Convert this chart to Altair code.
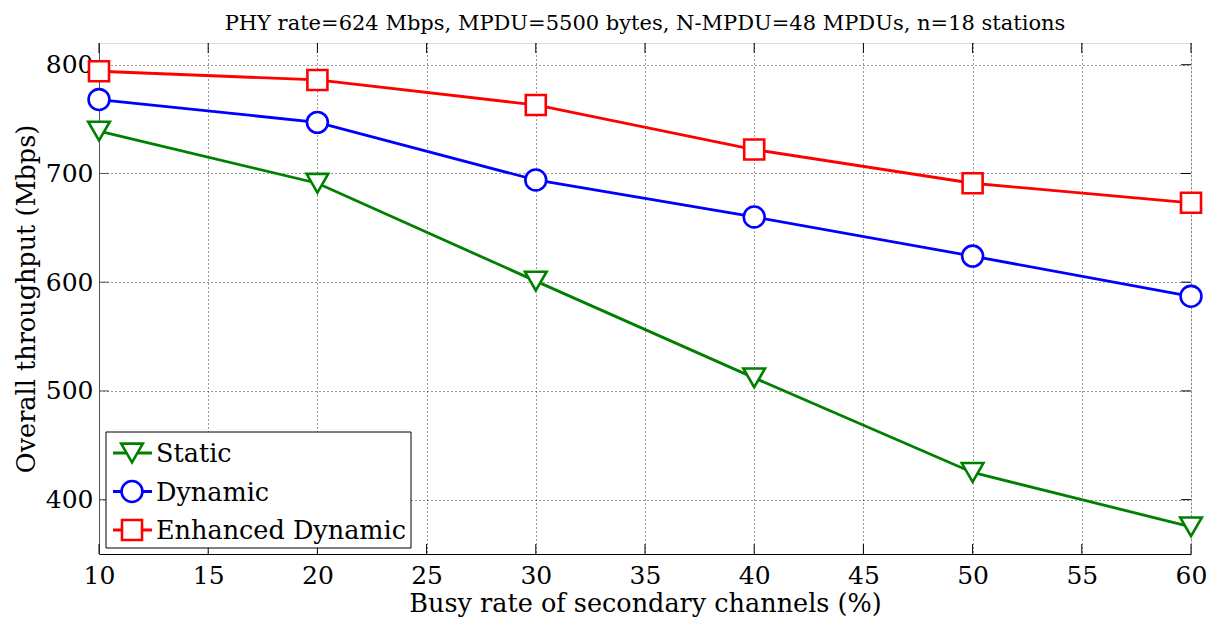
import altair as alt
import pandas as pd

busy_rate = [10, 20, 30, 40, 50, 60]
static = [739, 691, 601, 512, 425, 375]
dynamic = [768, 747, 694, 660, 624, 587]
enhanced = [794, 786, 763, 722, 691, 673]
series_names = ["Static", "Dynamic", "Enhanced Dynamic"]
series_colors = ["#008000", "#0000FF", "#FF0000"]
series_shapes = ["triangle-down", "circle", "square"]
series_sizes = [470, 400, 280]
x_ticks = [10, 15, 20, 25, 30, 35, 40, 45, 50, 55, 60]
y_ticks = [400, 500, 600, 700, 800]
title_text = "PHY rate=624 Mbps, MPDU=5500 bytes, N-MPDU=48 MPDUs, n=18 stations"
x_title = "Busy rate of secondary channels (%)"
y_title = "Overall throughput (Mbps)"

rows = []
for name, vals in zip(series_names, [static, dynamic, enhanced]):
    for r, v in zip(busy_rate, vals):
        rows.append({"rate": r, "thr": v, "series": name})
df = pd.DataFrame(rows)
leg_df = pd.DataFrame({"series": series_names})

FONT = "DejaVu Serif"
W, H = 1092, 511

x_scale = alt.Scale(domain=[10, 60], nice=False, zero=False)
y_scale = alt.Scale(domain=[350, 820], nice=False, zero=False)
x_axis = alt.Axis(values=x_ticks, title=x_title, grid=True, gridDash=[1, 3],
                  gridColor="#333", gridWidth=1, tickSize=0, labelPadding=9,
                  labelFontSize=25, titleFontSize=25.5, titleFontWeight="normal",
                  labelFont=FONT, titleFont=FONT, labelColor="black", titleColor="black",
                  domainColor="black", titlePadding=3, labelFlush=False)
y_axis = alt.Axis(values=y_ticks, title=y_title, grid=True, gridDash=[1, 3],
                  gridColor="#333", gridWidth=1, tickSize=0, labelPadding=6,
                  labelFontSize=25, titleFontSize=25.5, titleFontWeight="normal",
                  labelFont=FONT, titleFont=FONT, labelColor="black", titleColor="black",
                  domainColor="#555", titlePadding=6, labelFlush=False)

X = alt.X("rate:Q", scale=x_scale, axis=x_axis)
Y = alt.Y("thr:Q", scale=y_scale, axis=y_axis)

color_scale = alt.Scale(domain=series_names, range=series_colors)
shape_scale = alt.Scale(domain=series_names, range=series_shapes)
size_scale = alt.Scale(domain=series_names, range=series_sizes)

xt = pd.DataFrame({"rate": x_ticks})
yt = pd.DataFrame({"thr": y_ticks})

xtick_bottom = alt.Chart(xt).mark_rule(color="black", strokeWidth=1).encode(
    x=X, y=alt.value(H), y2=alt.value(H - 10))
xtick_top = alt.Chart(xt).mark_rule(color="black", strokeWidth=1).encode(
    x=X, y=alt.value(0), y2=alt.value(10))
ytick_left = alt.Chart(yt).mark_rule(color="#555", strokeWidth=1).encode(
    y=Y, x=alt.value(0), x2=alt.value(10))
ytick_right = alt.Chart(yt).mark_rule(color="black", strokeWidth=1).encode(
    y=Y, x=alt.value(W), x2=alt.value(W - 10))

lines = alt.Chart(df).mark_line(strokeWidth=2.8).encode(
    x=X, y=Y,
    color=alt.Color("series:N", scale=color_scale, legend=None),
)
points = alt.Chart(df).mark_point(filled=False, fill="white", fillOpacity=1,
                                  strokeWidth=2.6, opacity=1).encode(
    x=X, y=Y,
    color=alt.Color("series:N", scale=color_scale, legend=None),
    shape=alt.Shape("series:N", scale=shape_scale, legend=None),
    size=alt.Size("series:N", scale=size_scale, legend=None),
)

main = alt.layer(xtick_bottom, xtick_top, ytick_left, ytick_right, lines, points)

# legend drawn from the series list
LY = alt.Y("series:N", scale=alt.Scale(type="point", domain=series_names,
                                       range=[410, 487], padding=0), axis=None)
legend_box = alt.Chart(alt.Data(values=[{}])).mark_rect(
    fill="white", stroke="black", strokeWidth=1).encode(
    x=alt.value(7), x2=alt.value(312), y=alt.value(389), y2=alt.value(505))
leg_lines = alt.Chart(leg_df).mark_rule(strokeWidth=2.8).encode(
    y=LY, x=alt.value(14), x2=alt.value(53),
    color=alt.Color("series:N", scale=color_scale, legend=None))
leg_points = alt.Chart(leg_df).mark_point(filled=False, fill="white", fillOpacity=1,
                                          strokeWidth=2.6, opacity=1).encode(
    y=LY, x=alt.value(33),
    color=alt.Color("series:N", scale=color_scale, legend=None),
    shape=alt.Shape("series:N", scale=shape_scale, legend=None),
    size=alt.Size("series:N", scale=size_scale, legend=None))
leg_text = alt.Chart(leg_df).mark_text(align="left", baseline="middle", font=FONT,
                                       fontSize=25.5, color="black", dy=1).encode(
    y=LY, x=alt.value(57), text="series:N")
legend = alt.layer(legend_box, leg_lines, leg_points, leg_text)

chart = alt.layer(main, legend).resolve_scale(y="independent").properties(
    width=W, height=H,
    title=alt.TitleParams(title_text, font=FONT, fontSize=21, fontWeight="normal",
                          color="black", anchor="middle", offset=9),
    autosize=alt.AutoSizeParams(type="none"),
    padding={"left": 99, "top": 43, "right": 30, "bottom": 68},
).configure_view(stroke="#555", strokeWidth=1).configure(background="white")

chart.save("out.html", embed_options={"renderer": "svg", "actions": False})
